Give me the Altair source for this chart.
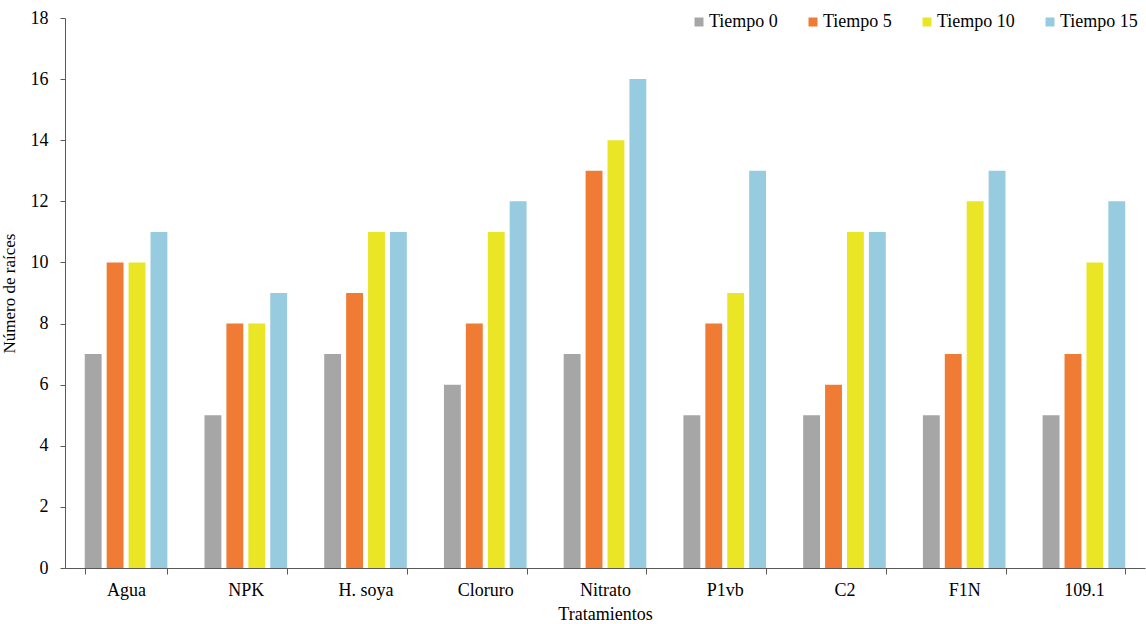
import altair as alt
import pandas as pd

# Treatments and root counts per time point
tratamientos = ["Agua", "NPK", "H. soya", "Cloruro", "Nitrato", "P1vb", "C2", "F1N", "109.1"]
series = ["Tiempo 0", "Tiempo 5", "Tiempo 10", "Tiempo 15"]
tiempo_0 = [7, 5, 7, 6, 7, 5, 5, 5, 5]
tiempo_5 = [10, 8, 9, 8, 13, 8, 6, 7, 7]
tiempo_10 = [10, 8, 11, 11, 14, 9, 11, 12, 10]
tiempo_15 = [11, 9, 11, 12, 16, 13, 11, 13, 12]
colores = ["#A6A6A6", "#F07B35", "#EAE625", "#97CBE0"]

rows = []
for s, vals in zip(series, [tiempo_0, tiempo_5, tiempo_10, tiempo_15]):
    for t, v in zip(tratamientos, vals):
        rows.append({"Tratamiento": t, "Serie": s, "Raices": v})
df = pd.DataFrame(rows)

FONT = "Times New Roman, Liberation Serif, serif"
AXIS_COLOR = "#595959"

chart = alt.Chart(df).mark_bar().encode(
    x=alt.X(
        "Tratamiento:N",
        sort=tratamientos,
        scale=alt.Scale(paddingInner=0.31, paddingOuter=0.165),
        axis=alt.Axis(
            title="Tratamientos",
            labelAngle=0,
            tickBand="extent",
            labelFont=FONT, labelFontSize=18, labelColor="#000000", labelPadding=7,
            titleFont=FONT, titleFontSize=18, titleFontWeight="normal", titleColor="#000000",
            titlePadding=6,
            domainColor=AXIS_COLOR, tickColor=AXIS_COLOR, tickSize=6,
        ),
    ),
    xOffset=alt.XOffset("Serie:N", sort=series, scale=alt.Scale(paddingInner=0.23)),
    y=alt.Y(
        "Raices:Q",
        scale=alt.Scale(domain=[0, 18], nice=False),
        axis=alt.Axis(
            title="Número de raíces",
            values=list(range(0, 19, 2)),
            grid=False,
            labelFont=FONT, labelFontSize=18, labelColor="#000000", labelPadding=12,
            titleFont=FONT, titleFontSize=17, titleFontWeight="normal", titleColor="#000000",
            titlePadding=12,
            domainColor=AXIS_COLOR, tickColor=AXIS_COLOR, tickSize=5,
        ),
    ),
    color=alt.Color(
        "Serie:N",
        sort=series,
        scale=alt.Scale(domain=series, range=colores),
        legend=alt.Legend(
            title=None,
            orient="none",
            legendX=625,
            legendY=-5,
            direction="horizontal",
            columns=4,
            columnPadding=26,
            symbolType="square",
            symbolSize=81,
            symbolStrokeWidth=0,
            labelFont=FONT, labelFontSize=18, labelColor="#000000",
            labelOffset=1,
        ),
    ),
).properties(
    width=1080,
    height=550,
    autosize=alt.AutoSizeParams(type="none"),
    padding={"left": 65, "top": 18, "right": 1, "bottom": 56},
).configure_view(stroke=None)

chart.save("out.html", embed_options={"renderer": "svg", "actions": False})
